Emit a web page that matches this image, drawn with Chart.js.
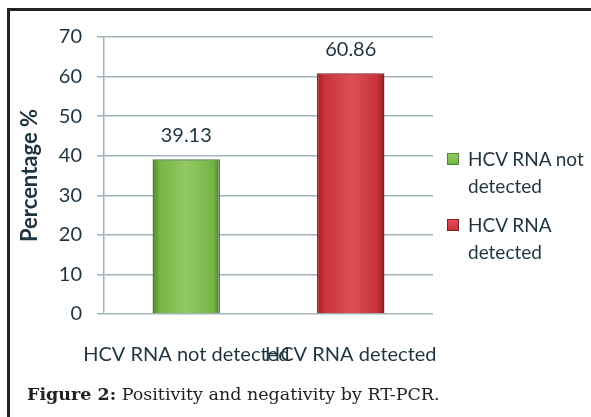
<!DOCTYPE html>
<html>
<head>
<meta charset="utf-8">
<script src="https://cdn.jsdelivr.net/npm/chart.js@4/dist/chart.umd.min.js"></script>
<style>
  html, body { margin: 0; padding: 0; background: #fff; }
  #wrap { position: relative; width: 591px; height: 417px; overflow: hidden; background: #fff; }
  #c { position: absolute; left: 0; top: 0; }
  .bt { position: absolute; left: 7px; top: 8px; width: 584px; height: 3px; background: #222; }
  .bl { position: absolute; left: 7px; top: 8px; width: 3px; height: 409px; background: #222; }
  #legend { position: absolute; left: 447px; top: 145px; font-family: Lato, "Open Sans", sans-serif; font-size: 19px; color: #1f3440; }
  .item { position: relative; padding-left: 21px; line-height: 27px; margin-bottom: 12px; }
  .sw { position: absolute; left: 0; top: 8px; width: 12px; height: 12px; box-sizing: border-box; }
  #caption { position: absolute; left: 27px; top: 384px; font-family: "DejaVu Serif", "Liberation Serif", serif; font-size: 17.5px; color: #222; white-space: nowrap; }
</style>
</head>
<body>
<div id="wrap">
  <canvas id="c" width="591" height="417"></canvas>
  <div class="bt"></div>
  <div class="bl"></div>
  <div id="legend"></div>
  <div id="caption"><b>Figure 2:</b> Positivity and negativity by RT-PCR.</div>
</div>
<script>
const categories = ["HCV RNA not detected", "HCV RNA detected"];
const legendLines = [["HCV RNA not", "detected"], ["HCV RNA", "detected"]];
const values = [39.13, 60.86];
const valueLabels = ["39.13", "60.86"];
const yTicks = [0, 10, 20, 30, 40, 50, 60, 70];

const baseColors = ["#76b446", "#c9323a"];
const darkColors = ["#4a842b", "#8e1a22"];
const lightColors = ["#92c965", "#dc4f56"];
const TEXT = "#1f3440";
const BAR_FRAC = 0.41;

function barFill(ctx) {
  const chart = ctx.chart;
  const i = ctx.dataIndex;
  const xs = chart.scales && chart.scales.x;
  if (!xs || !chart.chartArea || i === undefined) return baseColors[i] || baseColors[0];
  const cx = xs.getPixelForValue(i);
  const catW = (xs.right - xs.left) / categories.length;
  const w = catW * BAR_FRAC;
  const g = chart.ctx.createLinearGradient(cx - w / 2, 0, cx + w / 2, 0);
  g.addColorStop(0, darkColors[i]);
  g.addColorStop(0.1, baseColors[i]);
  g.addColorStop(0.5, lightColors[i] );
  g.addColorStop(0.9, baseColors[i]);
  g.addColorStop(1, darkColors[i]);
  return g;
}

const valueLabelPlugin = {
  id: 'valueLabels',
  afterDatasetsDraw(chart) {
    const ctx = chart.ctx;
    const meta = chart.getDatasetMeta(0);
    ctx.save();
    ctx.font = '20px Lato, "Open Sans", sans-serif';
    ctx.fillStyle = TEXT;
    ctx.textAlign = 'center';
    ctx.textBaseline = 'middle';
    meta.data.forEach((el, i) => {
      ctx.fillText(valueLabels[i], el.x, el.y - 24);
    });
    ctx.restore();
  }
};

new Chart(document.getElementById('c'), {
  type: 'bar',
  data: {
    labels: categories,
    datasets: [{
      label: 'Percentage',
      data: values,
      backgroundColor: barFill,
      borderColor: darkColors,
      borderWidth: 1.5,
      barPercentage: 1,
      categoryPercentage: BAR_FRAC
    }]
  },
  options: {
    responsive: false,
    animation: false,
    devicePixelRatio: 1,
    layout: { padding: { left: 0, top: 37, right: 158, bottom: 0 } },
    plugins: {
      legend: { display: false },
      tooltip: { enabled: false }
    },
    scales: {
      x: {
        grid: { display: false, drawTicks: false },
        border: { display: false },
        ticks: {
          color: TEXT,
          font: { family: 'Lato, "Open Sans", sans-serif', size: 20 },
          padding: 29,
          maxRotation: 0,
          minRotation: 0,
          autoSkip: false
        },
        afterFit(s) { s.height = 103; }
      },
      y: {
        min: 0,
        max: 70,
        afterBuildTicks(s) { s.ticks = yTicks.map(v => ({ value: v })); },
        grid: { color: "#a3b3bc", lineWidth: 1.5, tickLength: 7, drawTicks: true },
        border: { display: true, color: "#a3b3bc", width: 1.5 },
        ticks: {
          color: TEXT,
          font: { family: 'Lato, "Open Sans", sans-serif', size: 20 },
          padding: 15
        },
        title: {
          display: true,
          text: 'Percentage %',
          color: TEXT,
          font: { family: 'Lato, "Open Sans", sans-serif', size: 22, weight: 'bold' },
          padding: { top: 17, bottom: 0 }
        },
        afterFit(s) { s.width = 104; }
      }
    }
  },
  plugins: [valueLabelPlugin]
});

const legend = document.getElementById('legend');
legendLines.forEach((lines, i) => {
  const item = document.createElement('div');
  item.className = 'item';
  const sw = document.createElement('span');
  sw.className = 'sw';
  sw.style.background = `linear-gradient(${lightColors[i]}, ${baseColors[i]})`;
  sw.style.border = `1px solid ${darkColors[i]}`;
  item.appendChild(sw);
  lines.forEach((t, k) => {
    if (k) item.appendChild(document.createElement('br'));
    item.appendChild(document.createTextNode(t));
  });
  legend.appendChild(item);
});
</script>
</body>
</html>
